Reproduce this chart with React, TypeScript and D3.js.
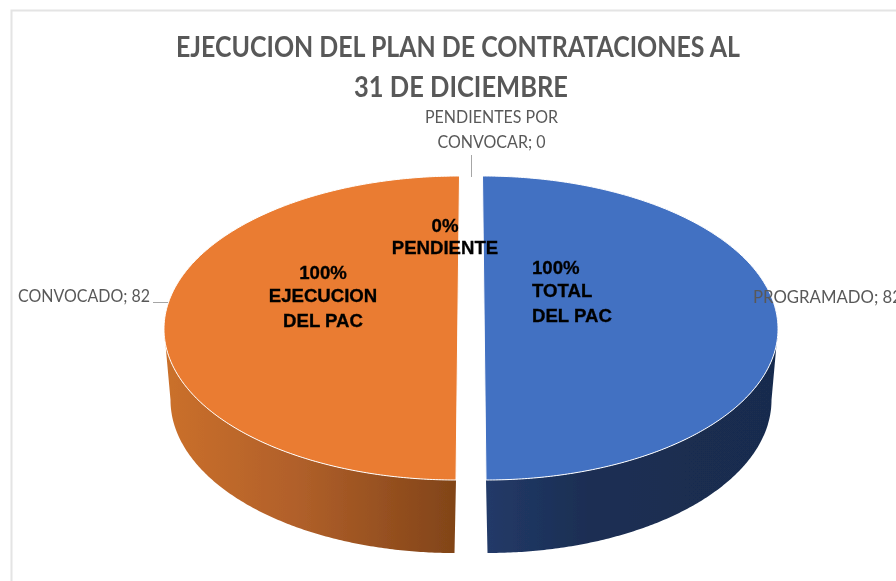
import * as d3 from "d3";

const titleLines = ["EJECUCION DEL PLAN DE CONTRATACIONES AL", "31 DE DICIEMBRE"];
const titleWidths = [564, 214];
const titleCenters = [458, 461];
const categories = ["PROGRAMADO", "PENDIENTES POR CONVOCAR", "CONVOCADO"];
const values = [82, 0, 82];
const sliceColors = ["#4371c2", "#a5a5a5", "#ea7c31"];

const width = 896;
const height = 581;
const centerX = 471;

// top face and bottom rim of the 3d pie (the rim is a bit narrower: perspective)
const topFace = { cy: 328, rx: 293.75, ry: 152 };
const bottomRim = { cy: 400, rx: 284, ry: 153 };

const pie = d3.pie<number>().sort(null).value((d) => d);
const slices = pie(values);

// angle as in d3.pie: 0 at the top, clockwise
function project(angle: number, dir: number, level: "top" | "bottom"): [number, number] {
  const u = Math.sin(angle);
  const v = -Math.cos(angle);
  if (level === "top") {
    const gap = 13.25 + 1.75 * v;
    return [centerX + dir * gap + topFace.rx * u, topFace.cy + topFace.ry * v];
  }
  return [centerX + dir * 16.5 + bottomRim.rx * u, bottomRim.cy + bottomRim.ry * v];
}

function sampleAngles(a0: number, a1: number) {
  return [...d3.range(a0, a1, 0.01), a1];
}

const line = d3.line();

function facePath(a0: number, a1: number, dir: number) {
  return line(sampleAngles(a0, a1).map((a) => project(a, dir, "top"))) + "Z";
}

function wallPath(a0: number, a1: number, dir: number) {
  const from = Math.max(a0, Math.PI / 2);
  const to = Math.min(a1, (3 * Math.PI) / 2);
  const angles = sampleAngles(from, to);
  const pts = [
    ...angles.map((a) => project(a, dir, "top")),
    ...angles.slice().reverse().map((a) => project(a, dir, "bottom")),
  ];
  return line(pts) + "Z";
}

const labelFont = "Lato, 'Open Sans', sans-serif";
const innerFont = "'Liberation Sans', Arial, sans-serif";

export default function App() {
  const drawn = slices
    .map((s, i) => ({ s, i, dir: s.index === 0 ? 1 : -1 }))
    .filter((d) => d.s.endAngle > d.s.startAngle);

  return (
    <svg
      width={width}
      height={height}
      viewBox={`0 0 ${width} ${height}`}
      style={{ position: "absolute", left: 0, top: 0, display: "block", background: "#fff" }}
    >
      <defs>
        <linearGradient id="wall-0" x1="0" x2="1" y1="0" y2="0">
          <stop offset="0%" stopColor="#223a68" />
          <stop offset="35%" stopColor="#1b2e53" />
          <stop offset="100%" stopColor="#192c4e" />
        </linearGradient>
        <linearGradient id="wall-2" x1="0" x2="1" y1="0" y2="0">
          <stop offset="0%" stopColor="#cb702c" />
          <stop offset="45%" stopColor="#b1602a" />
          <stop offset="100%" stopColor="#814418" />
        </linearGradient>
        <filter id="soft" x="-5%" y="-5%" width="110%" height="110%">
          <feGaussianBlur stdDeviation="0.45" />
        </filter>
      </defs>

      <g filter="url(#soft)">
        <path d="M11.5,581V10.5H896" fill="none" stroke="#e4e4e4" strokeWidth={2} />

        {titleLines.map((t, i) => (
          <text
            key={t}
            x={titleCenters[i]}
            y={57 + i * 40}
            textAnchor="middle"
            fontFamily={labelFont}
            fontSize={28}
            fontWeight={700}
            fill="#595959"
            textLength={titleWidths[i]}
            lengthAdjust="spacingAndGlyphs"
          >
            {t}
          </text>
        ))}

        {drawn.map(({ s, i, dir }) => (
          <path key={`w${i}`} d={wallPath(s.startAngle, s.endAngle, dir)} fill={`url(#wall-${i})`} />
        ))}
        {drawn.map(({ s, i, dir }) => (
          <path
            key={`f${i}`}
            d={facePath(s.startAngle, s.endAngle, dir)}
            fill={sliceColors[i]}
            stroke="#fff"
            strokeWidth={1}
          />
        ))}

        {/* leader lines */}
        <g fill="none" stroke="#a6a6a6" strokeWidth={1}>
          <path d="M471.5,155V177" />
          <path d="M153,302.5H168" />
        </g>

        {/* outer data labels */}
        <g fontFamily={labelFont} fontSize={16.5} fill="#595959">
          <text x={491.5} y={123} textAnchor="middle" textLength={133} lengthAdjust="spacingAndGlyphs">PENDIENTES POR</text>
          <text x={491.5} y={148} textAnchor="middle" textLength={108} lengthAdjust="spacingAndGlyphs">{`CONVOCAR; ${values[1]}`}</text>
          <text x={18} y={302} textLength={132} lengthAdjust="spacingAndGlyphs">{`${categories[2]}; ${values[2]}`}</text>
          <text x={753} y={303} textLength={149} lengthAdjust="spacingAndGlyphs">{`${categories[0]}; ${values[0]}`}</text>
        </g>

        {/* text boxes over the pie */}
        <g fontFamily={innerFont} fontSize={18.6} fontWeight={700} fill="#000" stroke="#000" strokeWidth={0.3}>
          <text x={445} y={232} textAnchor="middle">0%</text>
          <text x={445} y={254} textAnchor="middle">PENDIENTE</text>
          <text x={323} y={279} textAnchor="middle">100%</text>
          <text x={323} y={302} textAnchor="middle">EJECUCION</text>
          <text x={323} y={327} textAnchor="middle">DEL PAC</text>
          <text x={532} y={274}>100%</text>
          <text x={532} y={297}>TOTAL</text>
          <text x={532} y={322}>DEL PAC</text>
        </g>
      </g>
    </svg>
  );
}
